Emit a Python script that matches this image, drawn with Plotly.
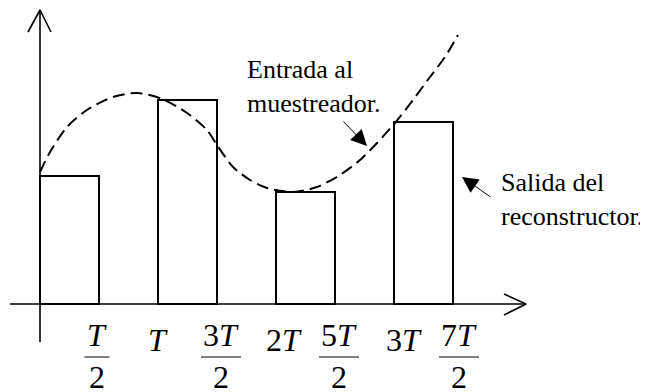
import plotly.graph_objects as go

# ---- data (x in units of T, y in arbitrary amplitude units) ----
sample_t = [0, 1, 2, 3]
hold_width = 0.5
held_values = [3.2, 5.1, 2.8, 4.55]

curve_t = [0.0, 0.085, 0.229, 0.398, 0.619, 0.822, 1.034, 1.246, 1.415, 1.5, 1.636,
           1.78, 1.924, 2.144, 2.347, 2.542, 2.712, 2.856, 3.008, 3.161, 3.305, 3.432, 3.542]
curve_y = [3.3, 3.8, 4.425, 4.85, 5.175, 5.275, 5.125, 4.775, 4.35, 3.975, 3.425,
           3.1, 2.9, 2.8, 2.925, 3.225, 3.6, 4.025, 4.525, 5.1, 5.675, 6.175, 6.725]

tick_vals = [0.5, 1, 1.5, 2, 2.5, 3, 3.5]
tick_num = ["<i>T</i>", "<i>T</i>", "3<i>T</i>", "2<i>T</i>", "5<i>T</i>", "3<i>T</i>", "7<i>T</i>"]
tick_den = ["2", "", "2", "", "2", "", "2"]

label_in = ["Entrada al", "muestreador."]
label_out = ["Salida del", "reconstructor."]

# ---- layout helpers (window pixel geometry; page body has an 8px margin) ----
WIN_W, WIN_H, OFF = 648, 392, 8
W, H = WIN_W - OFF, WIN_H - OFF
X0_PX, PX_PER_T = 40, 118
Y0_PX, PX_PER_U = 304, 40
x_rng = [(OFF - X0_PX) / PX_PER_T, (WIN_W - X0_PX) / PX_PER_T]
y_rng = [(Y0_PX - WIN_H) / PX_PER_U, (Y0_PX - OFF) / PX_PER_U]

def px_x(p):
    return (p - X0_PX) / PX_PER_T

def px_y(p):
    return (Y0_PX - p) / PX_PER_U

FONT = "Liberation Serif, Times New Roman, serif"
BLACK = "#000000"

fig = go.Figure()

# held (reconstructed) output: open rectangles
fig.add_trace(go.Bar(
    x=[t + hold_width / 2 for t in sample_t], y=held_values, width=hold_width,
    marker=dict(color="rgba(0,0,0,0)", line=dict(color=BLACK, width=2)),
    hoverinfo="skip", showlegend=False))

# input signal: dashed curve
fig.add_trace(go.Scatter(
    x=curve_t, y=curve_y, mode="lines",
    line=dict(color=BLACK, width=2, dash="12px,6px", shape="spline", smoothing=0.8),
    hoverinfo="skip", showlegend=False))

# axes with open arrowheads
ax_w = 1.6
fig.add_trace(go.Scatter(
    x=[px_x(10), px_x(526), None, px_x(504), px_x(526), px_x(504)],
    y=[0, 0, None, px_y(294), 0, px_y(315)],
    mode="lines", line=dict(color=BLACK, width=ax_w), hoverinfo="skip", showlegend=False))
fig.add_trace(go.Scatter(
    x=[0, 0, None, px_x(28), 0, px_x(51)],
    y=[px_y(342), px_y(10), None, px_y(32), px_y(10), px_y(32)],
    mode="lines", line=dict(color=BLACK, width=ax_w), hoverinfo="skip", showlegend=False))

annotations = []
shapes = []
label_dx = [-2, 0, 4, 8, 4, 10, 6]
TICK_FS = 32
for tv, num, den, dx in zip(tick_vals, tick_num, tick_den, label_dx):
    if den:
        annotations.append(dict(x=tv, y=px_y(335), xref="x", yref="y", text=num, showarrow=False,
                                xshift=dx, font=dict(family=FONT, size=TICK_FS, color=BLACK)))
        annotations.append(dict(x=tv, y=px_y(377), xref="x", yref="y", text=den, showarrow=False,
                                xshift=dx, font=dict(family=FONT, size=TICK_FS, color=BLACK)))
        half = 12.5 if num == "<i>T</i>" else 20
        cx = X0_PX + tv * PX_PER_T + dx
        shapes.append(dict(type="line", xref="x", yref="y",
                           x0=px_x(cx - half), x1=px_x(cx + half), y0=px_y(357), y1=px_y(357),
                           line=dict(color=BLACK, width=1)))
    else:
        annotations.append(dict(x=tv, y=px_y(340), xref="x", yref="y", text=num, showarrow=False,
                                xshift=dx, font=dict(family=FONT, size=TICK_FS, color=BLACK)))

LBL_FS = 26
annotations.append(dict(x=px_x(245), y=px_y(86), xref="x", yref="y", text="<br>".join(label_in),
                        showarrow=False, xanchor="left", yanchor="middle", align="left",
                        font=dict(family=FONT, size=LBL_FS, color=BLACK)))
annotations.append(dict(x=px_x(499), y=px_y(199), xref="x", yref="y", text="<br>".join(label_out),
                        showarrow=False, xanchor="left", yanchor="middle", align="left",
                        font=dict(family=FONT, size=LBL_FS, color=BLACK)))

# pointer arrows
annotations.append(dict(x=px_x(367), y=px_y(146), ax=px_x(342), ay=px_y(120), xref="x", yref="y",
                        axref="x", ayref="y", text="", showarrow=True, arrowhead=2, arrowsize=3.2,
                        arrowwidth=1, arrowcolor=BLACK))
annotations.append(dict(x=px_x(462), y=px_y(177), ax=px_x(492), ay=px_y(198), xref="x", yref="y",
                        axref="x", ayref="y", text="", showarrow=True, arrowhead=2, arrowsize=3.2,
                        arrowwidth=1, arrowcolor=BLACK))

fig.update_layout(
    width=W, height=H, margin=dict(l=0, r=0, t=0, b=0),
    paper_bgcolor="white", plot_bgcolor="white",
    xaxis=dict(range=x_rng, visible=False, fixedrange=True),
    yaxis=dict(range=y_rng, visible=False, fixedrange=True),
    annotations=annotations, shapes=shapes, bargap=0, showlegend=False)

fig.write_html("out.html")
